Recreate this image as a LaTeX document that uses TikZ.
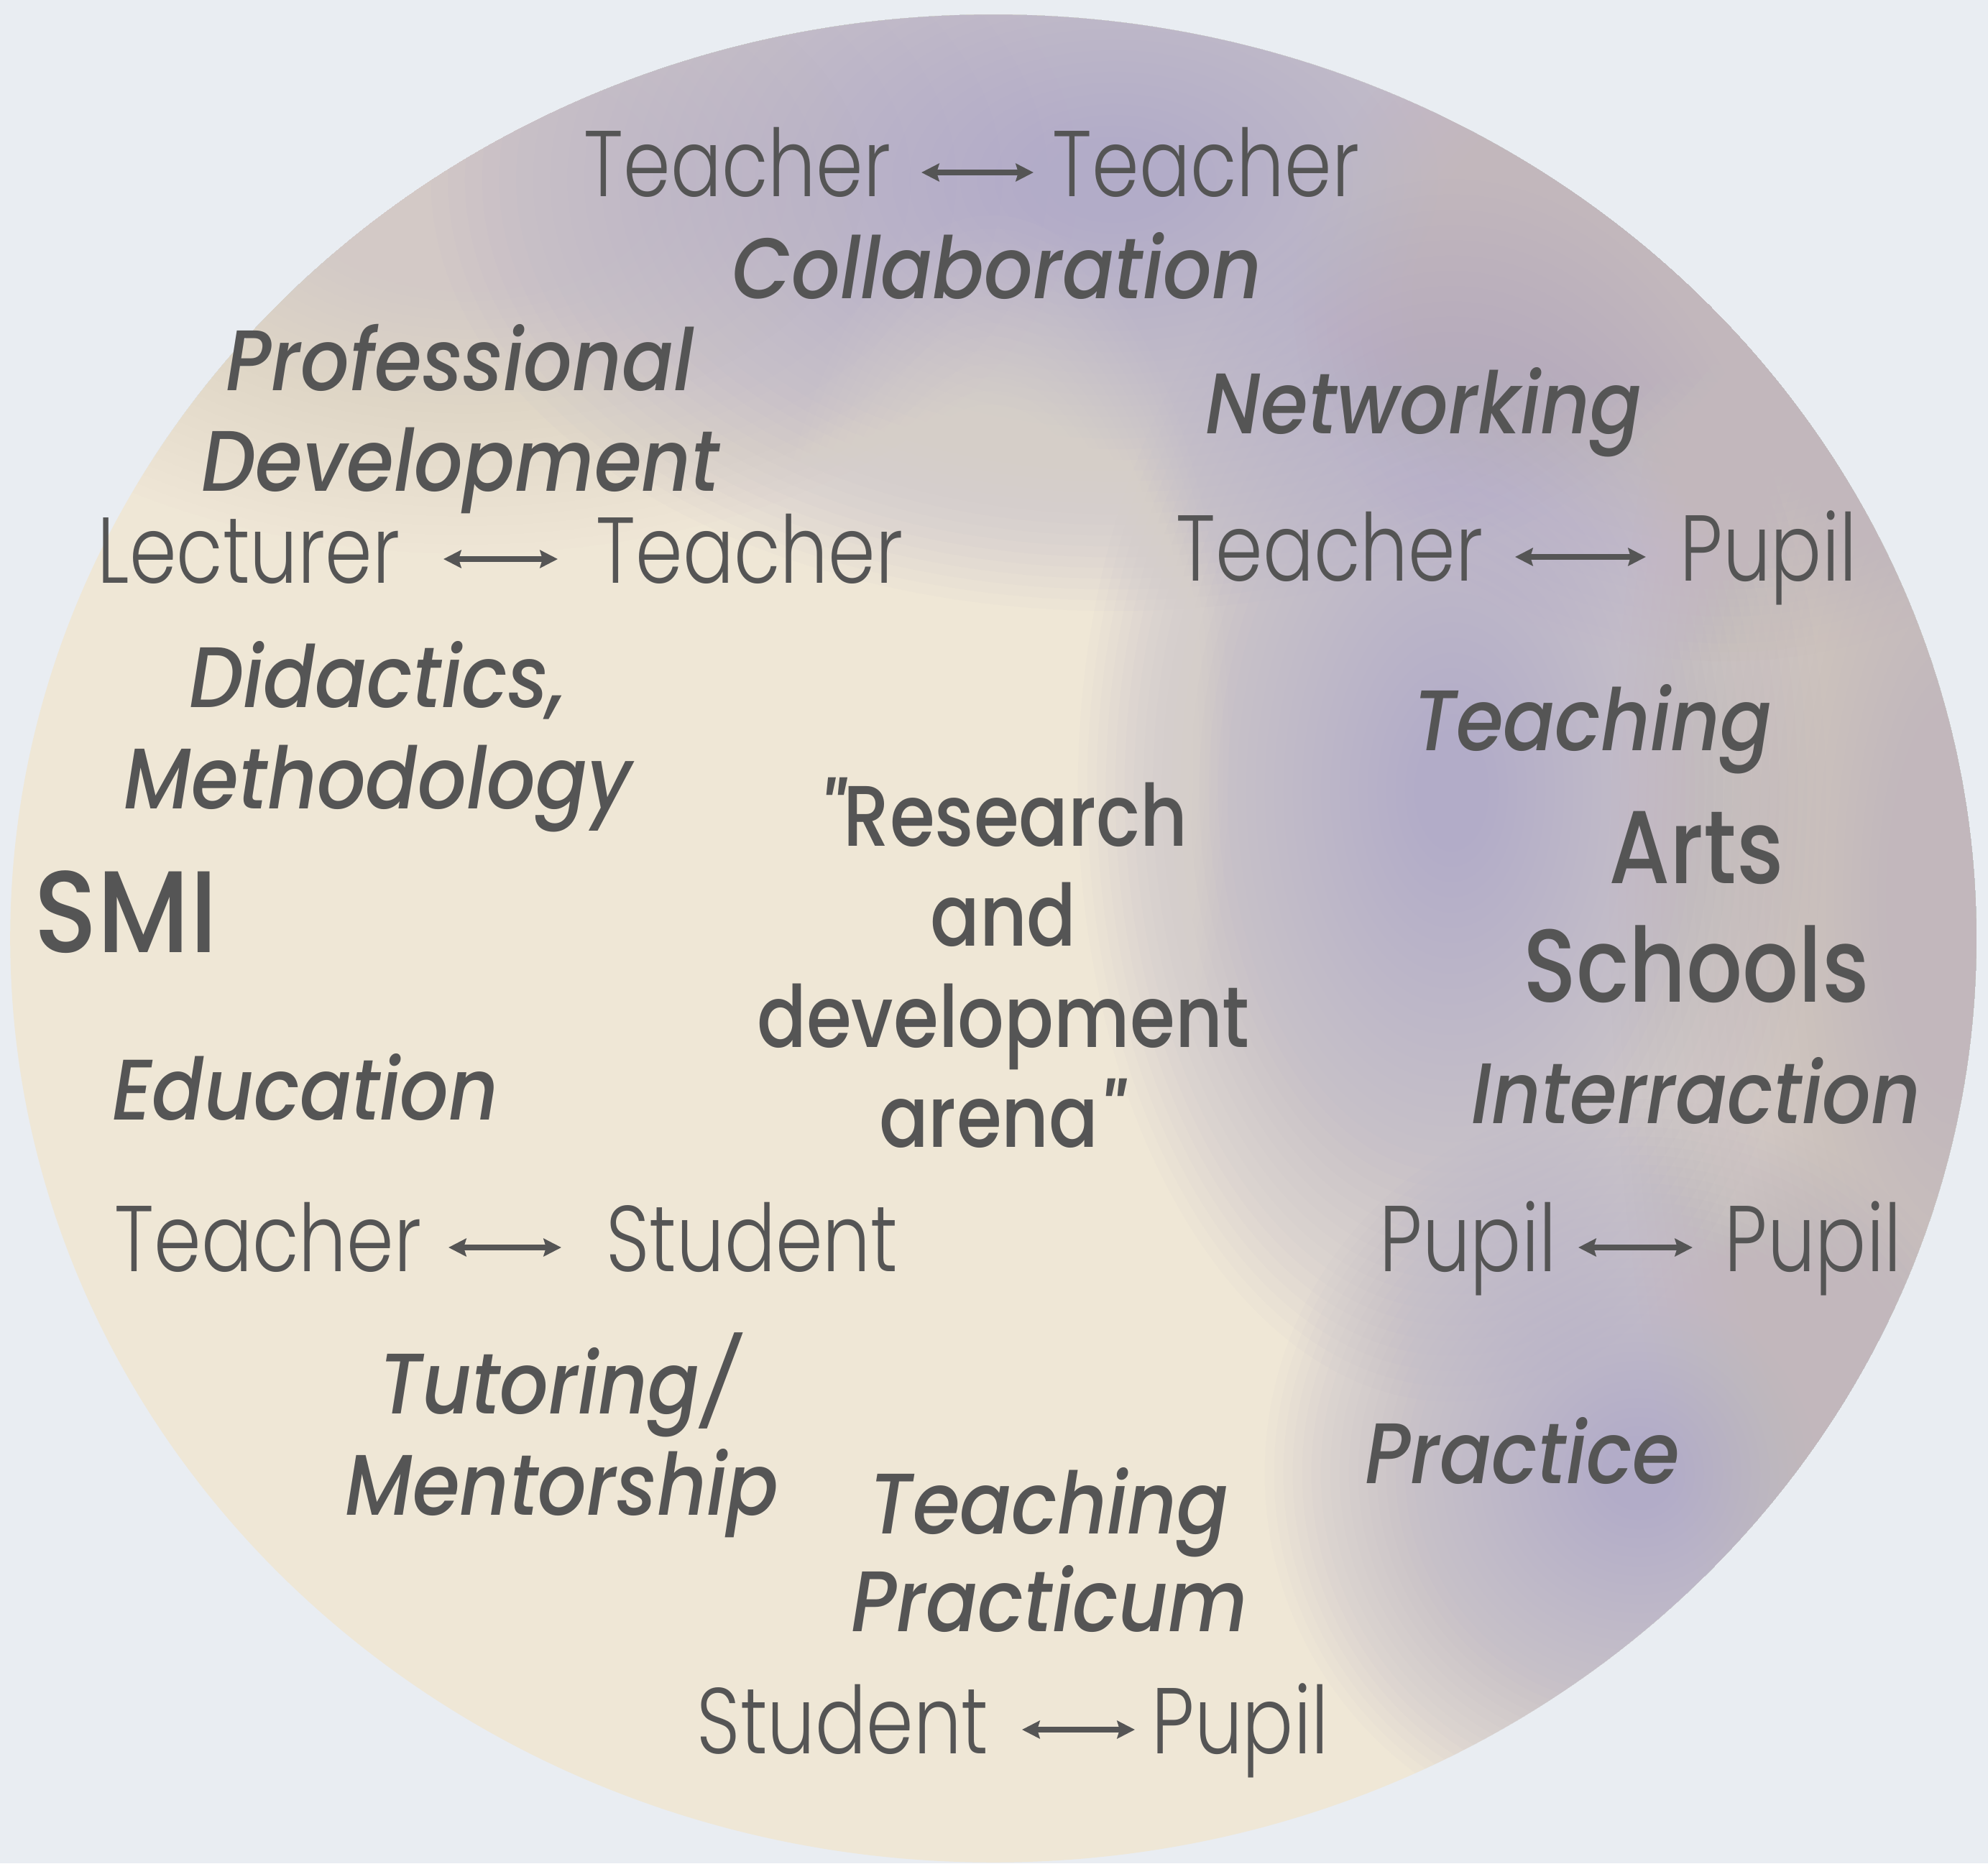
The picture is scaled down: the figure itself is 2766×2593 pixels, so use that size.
\documentclass[tikz,border=0pt]{standalone}
\usepackage{fontspec}
\setmainfont{Poppins}
\newfontfamily\lightf{Poppins Light}[FakeStretch=0.81]
\newfontfamily\medi{Poppins Medium Italic}[FakeStretch=0.89]
\newfontfamily\medu{Poppins Medium}[FakeStretch=0.85]
\newfontfamily\medsmi{Poppins Medium}[FakeStretch=0.9]
\usetikzlibrary{arrows.meta,calc}
\definecolor{ink}{HTML}{555555}
\definecolor{bgc}{HTML}{E9EDF2}
\definecolor{cream}{HTML}{EFE7D6}
\definecolor{lav}{HTML}{B2ACC8}
\definecolor{mauve}{HTML}{C2B7BC}
\definecolor{greybeige}{HTML}{D3C9C6}
\definecolor{lightcream}{HTML}{F4EDE0}
% soft blob: colour, x, y, rx, ry (px), per-layer opacity
\newcommand\softblob[6]{%
  \foreach \k in {1,...,40}{%
    \fill[#1, opacity=#6] (#2,#3) ellipse [x radius={\k/40*#4*0.284528pt}, y radius={\k/40*#5*0.284528pt}];
  }%
}
\tikzset{
  lbl/.style={font=\medi\fontsize{34}{40}\selectfont, text=ink, anchor=base, inner sep=0pt},
  upr/.style={font=\medu\fontsize{34}{40}\selectfont, text=ink, anchor=base, inner sep=0pt},
  big/.style={font=\medu\fontsize{41}{48}\selectfont, text=ink, anchor=base, inner sep=0pt},
  lite/.style={font=\lightf\fontsize{37}{44}\selectfont, text=ink, inner sep=0pt},
  arr/.style={{Stealth[length=7pt,width=7pt,inset=1pt]}-{Stealth[length=7pt,width=7pt,inset=1pt]}, line width=2.2pt, draw=ink}
}
\begin{document}
\begin{tikzpicture}[x=0.01cm,y=-0.01cm]
\useasboundingbox (0,0) rectangle (2766,2593);
\fill[bgc] (0,0) rectangle (2766,2593);
\softblob{white}{350}{250}{900}{160}{0.015}
\softblob{white}{300}{1900}{700}{200}{0.012}
\begin{scope}
  \clip (1382,1306) ellipse [x radius=13.67cm, y radius=12.85cm];
  \fill[cream] (0,0) rectangle (2766,2593);
  \softblob{greybeige}{650}{250}{850}{520}{0.036}
  \softblob{lav}{1550}{250}{950}{600}{0.048}
  \softblob{mauve}{2400}{420}{600}{500}{0.045}
  \softblob{lav}{2020}{1100}{520}{850}{0.048}
  \softblob{lav}{2280}{2050}{520}{520}{0.048}
  \softblob{mauve}{2720}{1250}{480}{1400}{0.048}
  \softblob{lightcream}{1380}{1050}{330}{750}{0.03}
\end{scope}

% labels
\node[lbl] (collab) at (1387,415) {Collaboration};
\node[lbl] (prof1) at (640,543) {Professional};
\node[lbl] (prof2) at (641,683) {Development};
\node[lbl] (netw) at (1981,603) {Networking};
\node[lbl] (did1) at (525,984) {Didactics,};
\node[lbl] (did2) at (526,1125) {Methodology};
\node[lbl] (teach1) at (2216,1044) {Teaching};
\node[lbl] (educ) at (425,1558) {Education};
\node[lbl] (inter) at (2360,1563) {Interraction};
\node[lbl] (tut1) at (778,1967) {Tutoring/};
\node[lbl] (tut2) at (782,2108) {Mentorship};
\node[lbl] (pract) at (2118,2064) {Practice};
\node[lbl] (tp1) at (1460,2134) {Teaching};
\node[lbl] (tp2) at (1460,2270) {Practicum};

\node[upr] (rd1) at (1396,1177) {{\medi"}Research};
\node[upr] (rd2) at (1396,1316) {and};
\node[upr] (rd3) at (1396,1457) {development};
\node[upr] (rd4) at (1393,1596) {arena{\medi"}};

\node[big] (arts) at (2360,1229) {Arts};
\node[big] (schools) at (2360,1394) {Schools};
\node[big, font=\medsmi\fontsize{46}{54}\selectfont, anchor=base west] (smi) at (47,1325) {SMI};

% relation rows
\node[lite, anchor=base east] (a1) at (1240,273) {Teacher};
\node[lite, anchor=base west] (a2) at (1464,273) {Teacher};
\draw[arr] ($(a1.base east)+(42,-33)$) -- ($(a2.base west)+(-26,-33)$);

\node[lite, anchor=base east] (b1) at (557,811) {Lecturer};
\node[lite, anchor=base west] (b2) at (829,811) {Teacher};
\draw[arr] ($(b1.base east)+(60,-33)$) -- ($(b2.base west)+(-53,-33)$);

\node[lite, anchor=base east] (c1) at (2064,808) {Teacher};
\node[lite, anchor=base west] (c2) at (2337,808) {Pupil};
\draw[arr] ($(c1.base east)+(44,-33)$) -- ($(c2.base west)+(-47,-33)$);

\node[lite, anchor=base east] (d1) at (587,1769) {Teacher};
\node[lite, anchor=base west] (d2) at (843,1769) {Student};
\draw[arr] ($(d1.base east)+(37,-33)$) -- ($(d2.base west)+(-62,-33)$);

\node[lite, anchor=base east] (e1) at (2166,1769) {Pupil};
\node[lite, anchor=base west] (e2) at (2399,1769) {Pupil};
\draw[arr] ($(e1.base east)+(30,-33)$) -- ($(e2.base west)+(-44,-33)$);

\node[lite, anchor=base east] (f1) at (1376,2440) {Student};
\node[lite, anchor=base west] (f2) at (1602,2440) {Pupil};
\draw[arr] ($(f1.base east)+(46,-33)$) -- ($(f2.base west)+(-23,-33)$);
\end{tikzpicture}
\end{document}
